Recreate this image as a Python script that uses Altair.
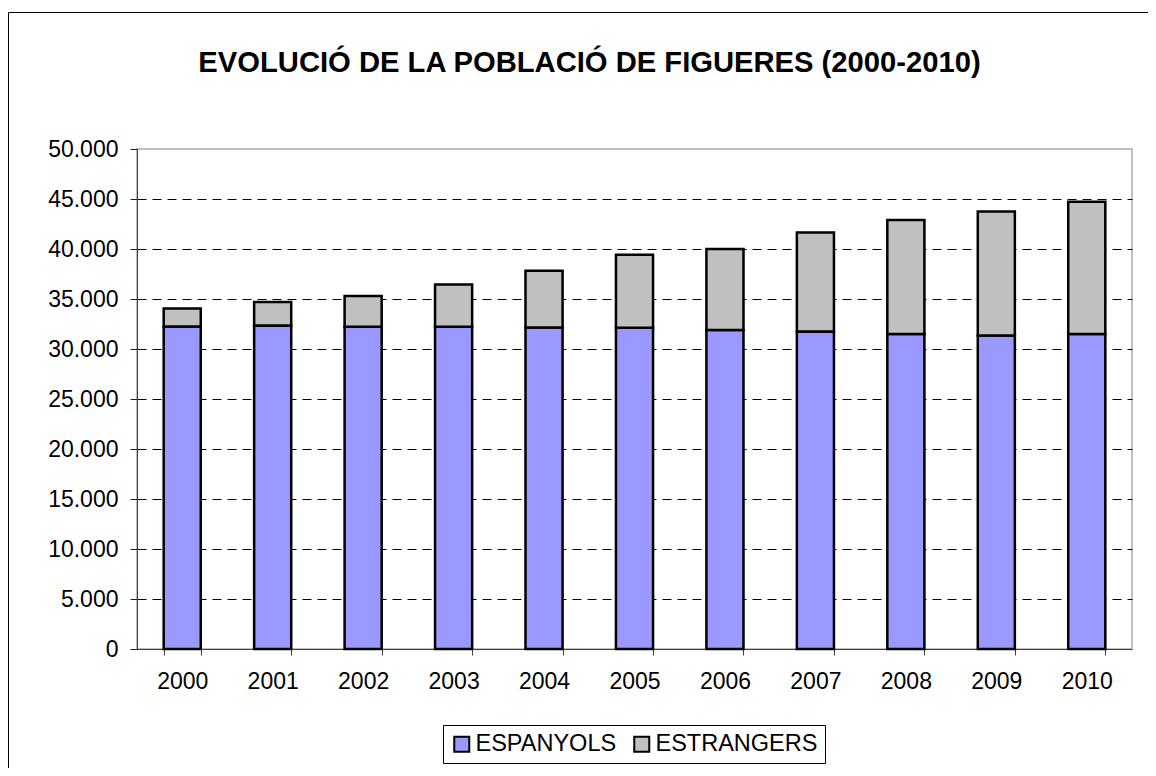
import altair as alt
import pandas as pd

years = ["2000", "2001", "2002", "2003", "2004", "2005", "2006", "2007", "2008", "2009", "2010"]
espanyols = [32260, 32360, 32230, 32230, 32160, 32130, 31900, 31760, 31500, 31360, 31500]
estrangers = [1800, 2340, 3070, 4230, 5670, 7300, 8100, 9900, 11400, 12400, 13230]
series = ["ESPANYOLS", "ESTRANGERS"]
colors = ["#9999FF", "#C0C0C0"]
y_ticks = [0, 5000, 10000, 15000, 20000, 25000, 30000, 35000, 40000, 45000, 50000]
title_text = "EVOLUCIÓ DE LA POBLACIÓ DE FIGUERES (2000-2010)"

rows = []
for i, y in enumerate(years):
    rows.append({"any": y, "serie": series[0], "valor": espanyols[i], "ord": 0})
    rows.append({"any": y, "serie": series[1], "valor": estrangers[i], "ord": 1})
df = pd.DataFrame(rows)

FONT = "Liberation Sans"

bars = alt.Chart(df).mark_bar(stroke="black", strokeWidth=2.5).encode(
    x=alt.X("any:N", sort=years, title=None,
            scale=alt.Scale(paddingInner=0.59, paddingOuter=0.295),
            axis=alt.Axis(labelAngle=0, tickBand="extent", tickSize=6,
                          tickColor="#404040", domainColor="#404040",
                          labelFontSize=23, labelFont=FONT, labelColor="black",
                          labelPadding=15, grid=False)),
    y=alt.Y("valor:Q", stack="zero", title=None,
            scale=alt.Scale(domain=[0, 50000], nice=False),
            axis=alt.Axis(values=y_ticks, tickSize=7, tickColor="#202020",
                          domainColor="#404040", labelFontSize=23, labelFont=FONT,
                          labelColor="black", labelPadding=12,
                          labelExpr="replace(format(datum.value, ','), ',', '.')",
                          grid=True, gridColor="black", gridDash=[9, 6], gridWidth=1,
                          gridOpacity=alt.condition("datum.value >= 50000 || datum.value <= 0",
                                                    alt.value(0), alt.value(1)))),
    color=alt.Color("serie:N", sort=series, title=None,
                    scale=alt.Scale(domain=series, range=colors),
                    legend=alt.Legend(orient="none", legendX=306, legendY=576,
                                      direction="horizontal", symbolType="square",
                                      symbolSize=225, symbolStrokeColor="black",
                                      symbolStrokeWidth=2, labelFontSize=23.5,
                                      labelFont=FONT, labelColor="black",
                                      labelLimit=300, labelOffset=2, columnPadding=13,
                                      strokeColor="black", padding=7,
                                      fillColor="white")),
    order=alt.Order("ord:Q"),
)

border = alt.Chart(pd.DataFrame({"a": [0]})).mark_rect(
    filled=False, stroke="black", strokeWidth=1, clip=False
).encode(
    x=alt.value(-128.5), x2=alt.value(1100),
    y=alt.value(-136.5), y2=alt.value(700),
)

chart = alt.layer(border, bars).properties(
    width=995, height=500,
    autosize=alt.AutoSizeParams(type="none"),
    padding={"left": 129, "top": 141, "right": 16, "bottom": 119},
    title=alt.TitleParams(title_text, fontSize=29.2, font=FONT, fontWeight="bold",
                          color="black", anchor="middle", dx=-45, offset=0,
                          baseline="alphabetic", dy=89),
    background="white",
).configure_view(stroke="#C0C0C0", strokeWidth=2)

chart.save("out.html", embed_options={"renderer": "svg", "actions": False})
